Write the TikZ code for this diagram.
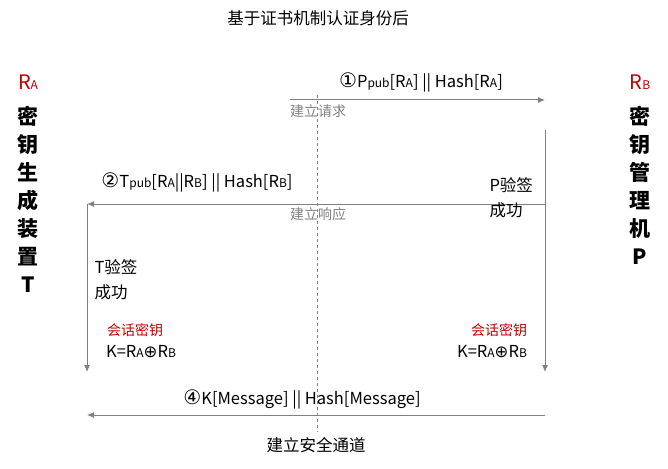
\documentclass[tikz,border=0pt]{standalone}
\usepackage{fontspec}
\usetikzlibrary{arrows.meta}
\setmainfont{Noto Sans CJK SC}
\newfontfamily\dv{DejaVu Sans}
\definecolor{lg}{RGB}{128,128,128}
\definecolor{rd}{RGB}{192,0,0}
\newcommand{\smx}[1]{{\fontsize{12}{12}\selectfont #1}}
\begin{document}
\begin{tikzpicture}[x=1pt,y=-1pt,
  arr/.style={draw=lg,line width=1pt,-{Latex[length=7pt,width=6pt]}},
  lbl/.style={font=\fontsize{16.5}{25}\selectfont},
  gl/.style={font=\fontsize{14}{16}\selectfont,text=lg},
  side/.style={font=\fontsize{21}{28}\selectfont\bfseries,align=center}]
\useasboundingbox (0,0) rectangle (668,468);
\node[lbl] (title) at (318,18) {基于证书机制认证身份后};
\node[font=\fontsize{20}{20}\selectfont,text=rd] (ra) at (28,82) {R\smx{A}};
\node[font=\fontsize{20}{20}\selectfont,text=rd] (rb) at (640,82) {R\smx{B}};
\node[side,anchor=north] (dev) at (28,103) {密\\钥\\生\\成\\装\\置\\T};
\node[side,anchor=north] (mgr) at (640,103) {密\\钥\\管\\理\\机\\P};
\coordinate (dt) at (317,95); \coordinate (db) at (317,432);
\draw[lg,dashed] (dt) -- (db);
\coordinate (a1s) at (290,100); \coordinate (a1e) at (545,100);
\draw[arr] (a1s) -- (a1e);
\node[lbl] (l1) at (421,82) {{\dv\fontsize{20}{20}\selectfont ①}P\smx{pub}[R\smx{A}] || Hash[R\smx{A}]};
\node[gl] (req) at (318,111) {建立请求};
\coordinate (rt) at (545,130); \coordinate (rbm) at (545,372);
\draw[arr] (rt) -- (rbm);
\coordinate (a2s) at (545,204); \coordinate (a2e) at (87,204);
\draw[arr] (a2s) -- (a2e);
\node[lbl] (l2) at (197,182) {{\dv\fontsize{20}{20}\selectfont ②}T\smx{pub}[R\smx{A}||R\smx{B}] || Hash[R\smx{B}]};
\node[gl] (resp) at (318,214) {建立响应};
\node[lbl,align=left,anchor=north west] (pv) at (486,174) {P验签\\成功};
\coordinate (lt) at (87,204); \coordinate (lb) at (87,372);
\draw[arr] (lt) -- (lb);
\node[lbl,align=left,anchor=north west] (tv) at (91,256) {T验签\\成功};
\node[font=\fontsize{14}{16}\selectfont,text=rd] (k1) at (135,330) {会话密钥};
\node[lbl] (k1f) at (141,352) {K=R\smx{A}{\dv ⊕}R\smx{B}};
\node[font=\fontsize{14}{16}\selectfont,text=rd] (k2) at (499,330) {会话密钥};
\node[lbl] (k2f) at (492,352) {K=R\smx{A}{\dv ⊕}R\smx{B}};
\coordinate (a4s) at (545,415); \coordinate (a4e) at (87,415);
\draw[arr] (a4s) -- (a4e);
\node[lbl] (l4) at (302,399) {{\dv\fontsize{20}{20}\selectfont ④}K[Message] || Hash[Message]};
\node[lbl] (ch) at (316,445) {建立安全通道};
\end{tikzpicture}
\end{document}
